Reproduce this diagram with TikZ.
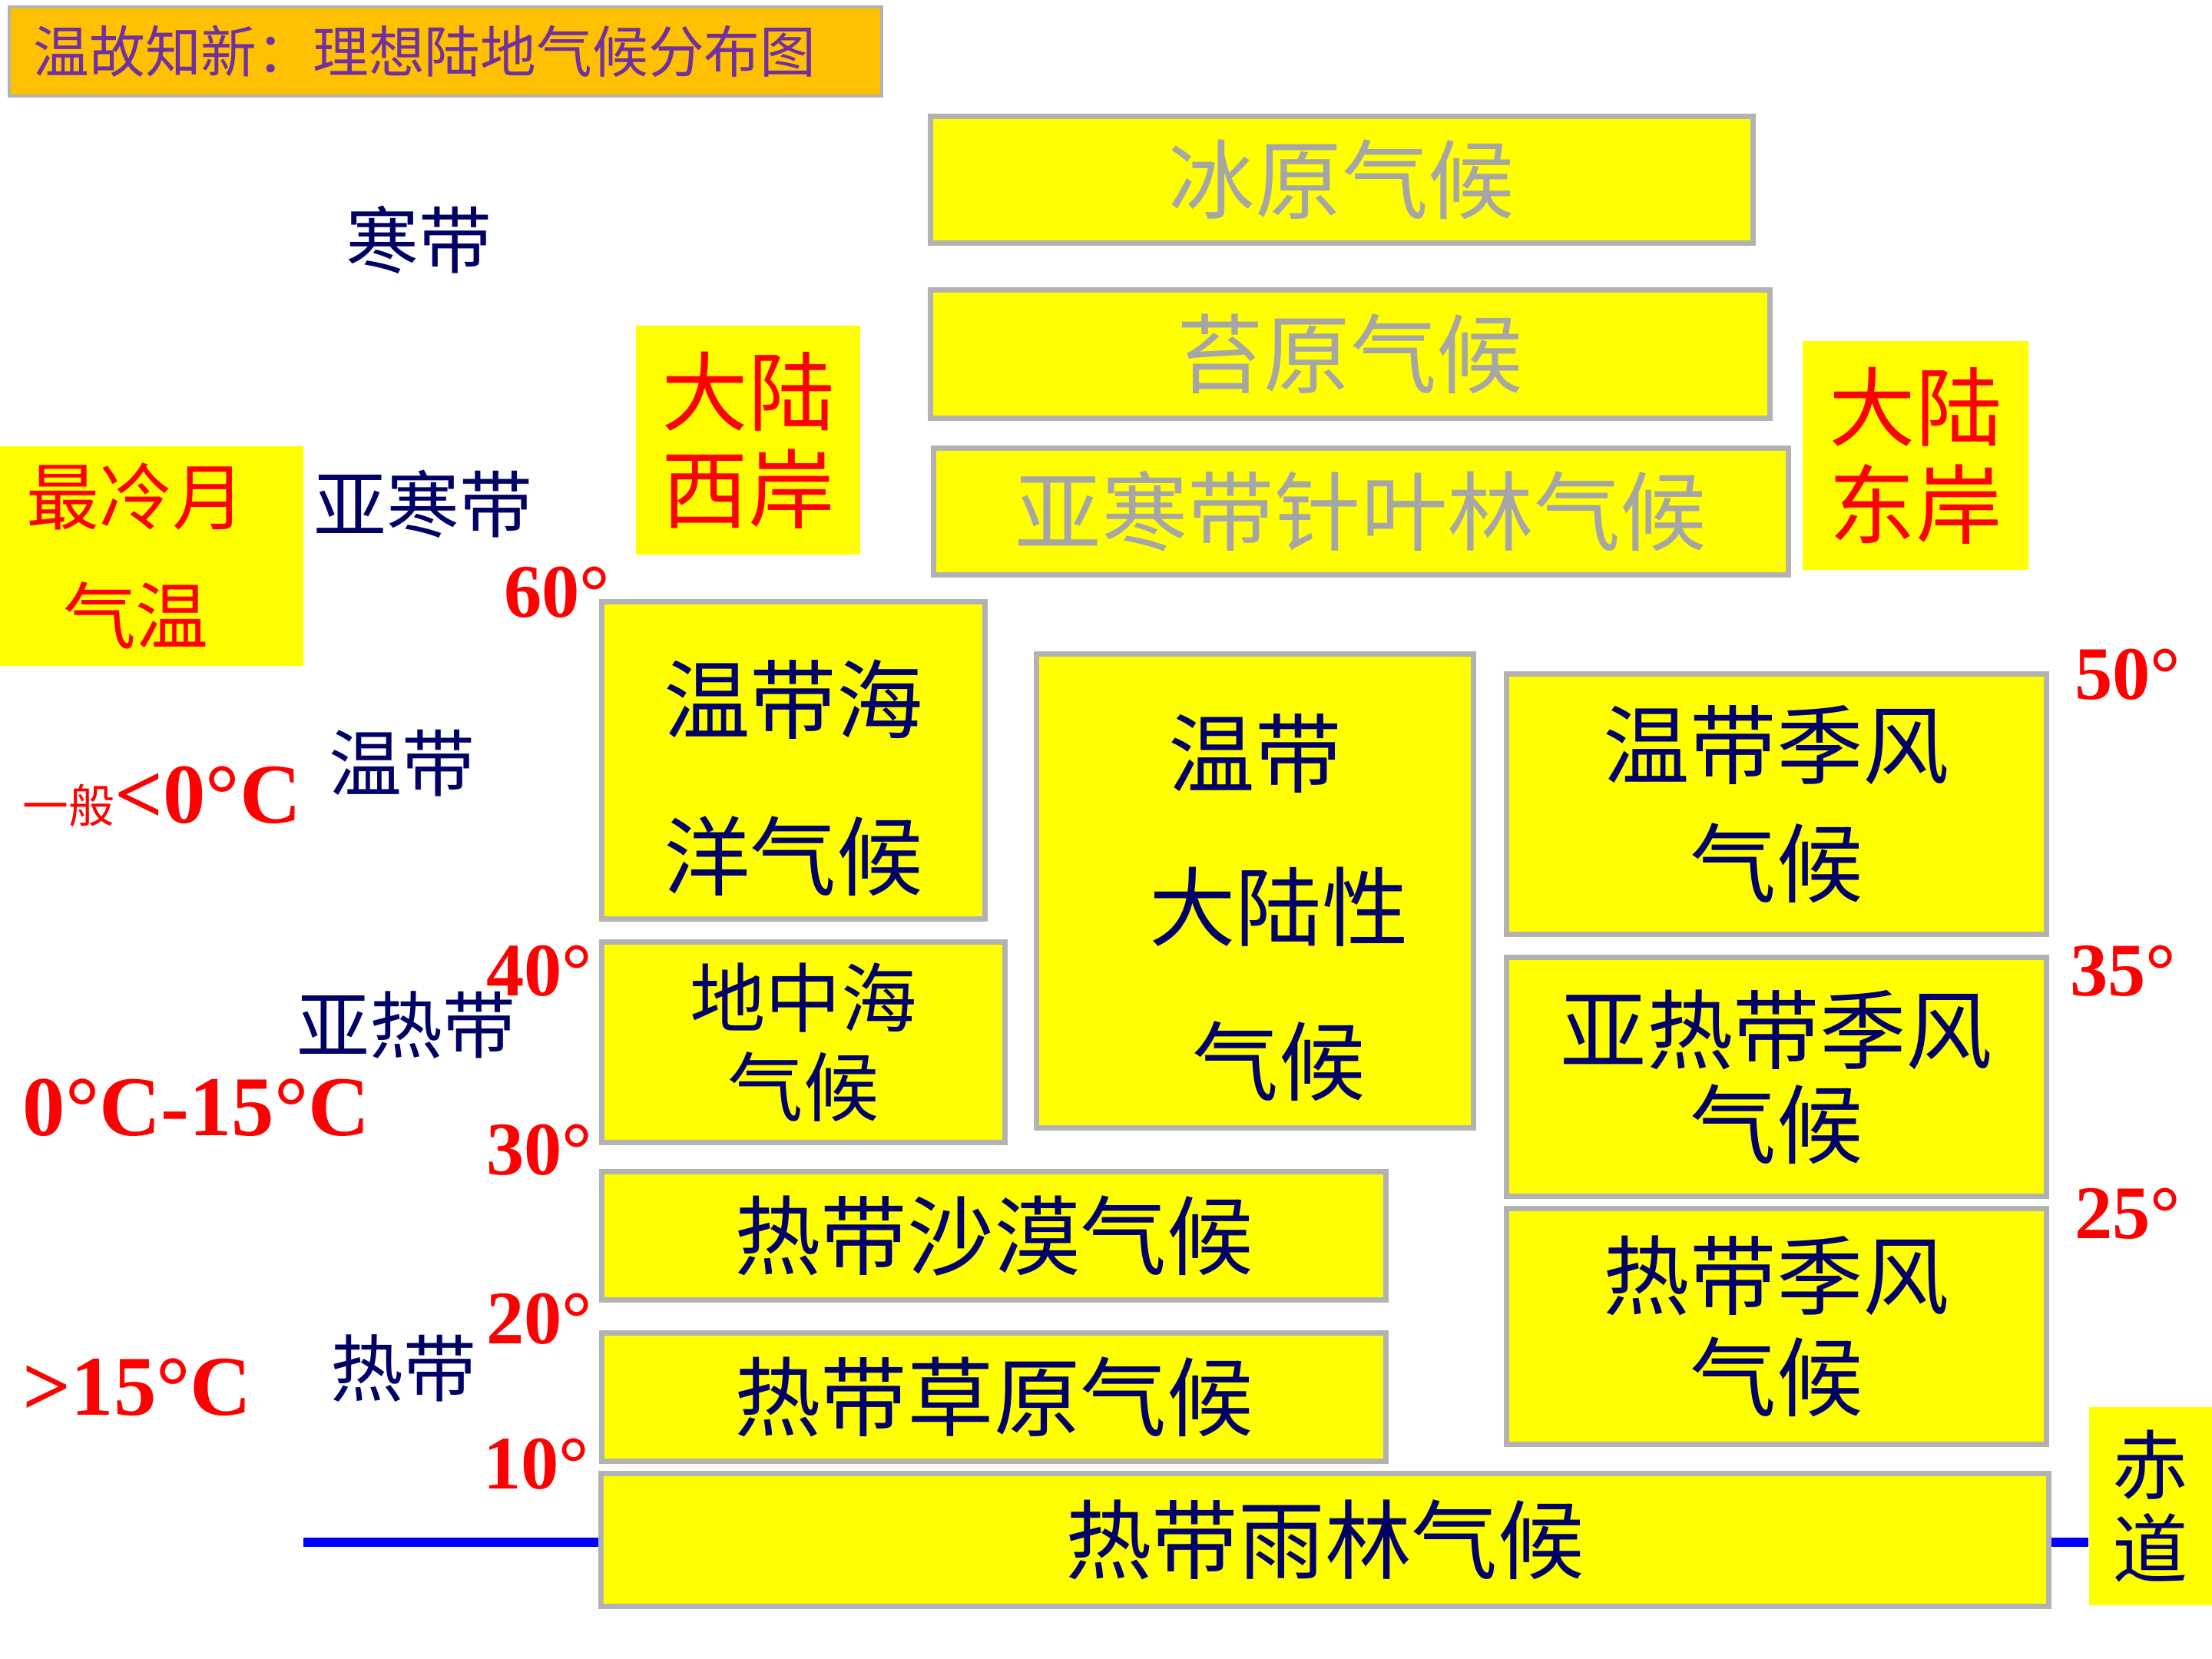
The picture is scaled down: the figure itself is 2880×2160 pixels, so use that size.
\documentclass[tikz,border=0pt]{standalone}
\usepackage{fontspec}
\setmainfont{Liberation Serif}
\newfontfamily\cjk{Noto Sans CJK SC}
\definecolor{boxyellow}{HTML}{FFFF00}
\definecolor{boxgray}{HTML}{B2B2B2}
\definecolor{textgray}{HTML}{A6A6A6}
\definecolor{navy}{HTML}{000066}
\definecolor{titleorange}{HTML}{FFC000}
\definecolor{titlepurple}{HTML}{7030A0}

\begin{document}
\begin{tikzpicture}[x=0.01cm,y=-0.01cm,
  climbox/.style={draw=boxgray,line width=2pt,fill=boxyellow,inner sep=0pt,
    align=center,text=navy,font=\cjk\fontsize{32}{58}\selectfont},
  coldbox/.style={climbox,text=textgray},
  notebox/.style={fill=boxyellow,inner sep=0pt,align=center},
  zonelabel/.style={text=navy,font=\cjk\fontsize{27}{30}\selectfont},
  latlabel/.style={text=red,font=\fontsize{28}{30}\selectfont\bfseries},
  templabel/.style={text=red,inner sep=0pt,anchor=base west,font=\fontsize{31.5}{36}\selectfont\bfseries},
  equator/.style={blue,line width=3.4pt}]
  \useasboundingbox (0,0) rectangle (2880,2160);

  % title
  \node[draw=boxgray,line width=1pt,fill=titleorange,minimum width=11.35cm,minimum height=1.16cm,
    text=titlepurple,font=\cjk\fontsize{20.7}{24}\selectfont] (title) at (580,67)
    {温故知新：理想陆地气候分布图\hspace*{0.54cm}};

  % equator
  \coordinate (eqstart) at (395,2008);
  \node[notebox,minimum width=1.6cm,minimum height=2.57cm,text=navy,
    font=\cjk\fontsize{28}{31}\selectfont] (eqbox) at (2800,1961) {赤\\道};

  % cold climates
  \node[coldbox,minimum width=10.71cm,minimum height=1.64cm] (ice) at (1747,234) {冰原气候};
  \node[coldbox,minimum width=10.93cm,minimum height=1.67cm] (tundra) at (1758,461) {苔原气候};
  \node[coldbox,minimum width=11.13cm,minimum height=1.65cm] (taiga) at (1772,666) {亚寒带针叶林气候};

  % coasts
  \node[notebox,minimum width=2.92cm,minimum height=2.98cm,text=red,
    font=\cjk\fontsize{32}{36}\selectfont] (west) at (974,573) {大陆\\西岸};
  \node[notebox,minimum width=2.94cm,minimum height=2.98cm,text=red,
    font=\cjk\fontsize{32}{36}\selectfont] (east) at (2494,593) {大陆\\东岸};
  \node[notebox,minimum width=3.95cm,minimum height=2.85cm,text=red,
    font=\cjk\fontsize{27}{44}\selectfont] (coldest) at (197,724)
    {最冷月\hspace*{0.4cm}\\气温\hspace*{0.4cm}};

  % temperate and subtropical climates
  \node[climbox,minimum width=4.98cm,minimum height=4.12cm] (ocean) at (1033,990)
    {\rule{0pt}{40pt}温带海\\洋气候};
  \node[climbox,minimum width=5.69cm,minimum height=6.17cm,
    font=\cjk\fontsize{32}{57}\selectfont] (continental) at (1634,1160)
    {\rule{0pt}{39pt}温带\\\hspace*{0.62cm}大陆性\\\hspace*{0.62cm}气候};
  \node[climbox,minimum width=7.03cm,minimum height=3.38cm,
    font=\cjk\fontsize{32}{44}\selectfont] (tempmonsoon) at (2313,1047) {温带季风\\气候};
  \node[climbox,minimum width=5.24cm,minimum height=2.61cm,
    font=\cjk\fontsize{28}{33}\selectfont] (medit) at (1046,1357) {地中海\\气候};
  \node[climbox,minimum width=7.03cm,minimum height=3.11cm,
    font=\cjk\fontsize{32}{35}\selectfont] (subtropmonsoon) at (2313,1402) {亚热带季风\\气候};

  % tropical climates
  \node[climbox,minimum width=10.21cm,minimum height=1.67cm] (desert) at (1294,1609) {热带沙漠气候};
  \node[climbox,minimum width=10.21cm,minimum height=1.67cm] (savanna) at (1294,1819) {热带草原气候};
  \node[climbox,minimum width=7.03cm,minimum height=3.07cm,
    font=\cjk\fontsize{32}{37.5}\selectfont] (tropmonsoon) at (2313,1727) {热带季风\\气候};
  \node[climbox,minimum width=18.83cm,minimum height=1.73cm] (rain) at (1725,2005) {热带雨林气候};

  \draw[equator] (eqstart) -- (eqstart -| rain.west);
  \draw[equator] (eqstart -| rain.east) -- (eqstart -| eqbox.west);

  % zones
  \foreach \name/\zone/\x/\y in {frigid/寒带/545/312,subfrigid/亚寒带/551/656,temperate/温带/523/994,
    subtropic/亚热带/529/1335,tropic/热带/525/1782}
    \node[zonelabel] (\name) at (\x,\y) {\zone};

  % latitudes
  \foreach \lat/\x/\y in {60/725/771,40/702/1264,30/702/1497,20/702/1717,10/698/1906,
    50/2770/878,35/2764/1264,25/2770/1580}
    \node[latlabel] (lat\lat) at (\x,\y) {\lat°};

  % coldest month temperatures
  \node[templabel] (tempcold) at (29,1071) {{\cjk\mdseries\fontsize{17}{20}\selectfont 一般}<0°C};
  \node[templabel] (tempmid) at (29,1478) {0°C-15°C};
  \node[templabel] (temphot) at (29,1842) {>15°C};
\end{tikzpicture}
\end{document}
